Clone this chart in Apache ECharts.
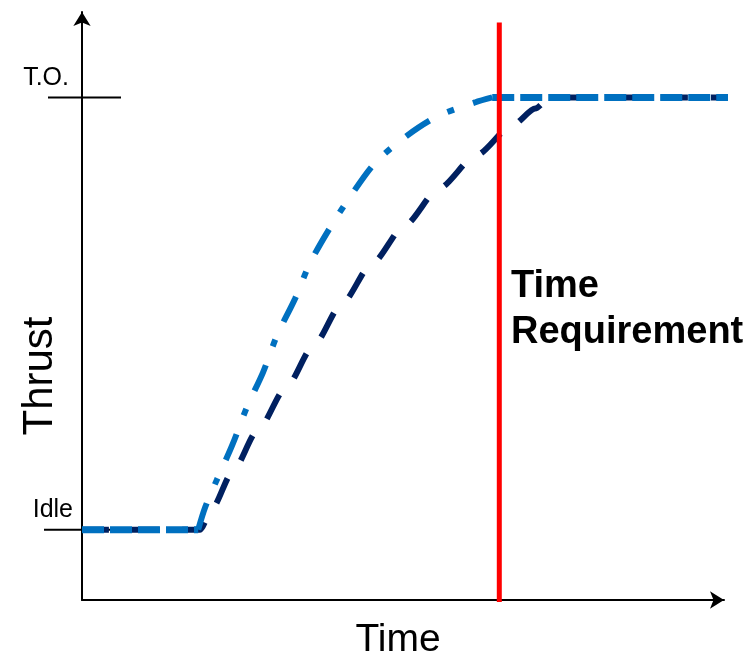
<!DOCTYPE html>
<html>
<head>
<meta charset="utf-8">
<script src="https://cdn.jsdelivr.net/npm/echarts@6/dist/echarts.min.js"></script>
<style>
  html, body { margin: 0; padding: 0; background: #fff; }
  #chart { width: 750px; height: 657px; }
</style>
</head>
<body>
<div id="chart"></div>
<script>
// Engine acceleration from idle to take-off thrust (time and thrust in arbitrary units)
const leadTime   = [0, 18.1, 19.2, 21.0, 23.4, 25.7, 28.2, 30.4, 33.2, 35.5, 38.6, 41.9, 45.6, 50.2, 55.3, 61.2, 63.9, 102.8];
const leadThrust = [14, 14, 18.5, 23.9, 30.8, 38.4, 45.3, 52.7, 60.0, 67.0, 74.0, 80.5, 86.9, 92.0, 96.2, 99.0, 100, 100];

const lagTime   = [0, 18.4, 20.3, 23.4, 27.4, 31.8, 36.1, 40.5, 45.2, 50.3, 55.6, 61.4, 67.0, 70.6, 72.9, 102.8];
const lagThrust = [14, 14, 18.3, 25.4, 33.8, 42.3, 50.7, 59.0, 67.0, 74.6, 81.9, 88.5, 94.4, 97.8, 100, 100];

// Thrust levels marked on the vertical axis
const levelValues = [14, 100];
const levelNames  = ['Idle', 'T.O.'];

// Required acceleration time and the vertical extent of its marker line
const requirementTime = 65;
const requirementSpan = [-0.4, 114.9];

const FONT = 'Liberation Sans, Arial, sans-serif';
const LIGHT = '#0070C0';
const DARK = '#002060';

const zip = (xs, ys) => xs.map((x, i) => [x, ys[i]]);
const lead = zip(leadTime, leadThrust);
const lag = zip(lagTime, lagThrust);
const n = lead.length;

const chart = echarts.init(document.getElementById('chart'), null, { renderer: 'canvas' });

const lineBase = {
  type: 'line',
  symbol: 'none',
  clip: false,
  silent: true,
  animation: false
};

chart.setOption({
  animation: false,
  backgroundColor: '#ffffff',
  grid: { left: 82, top: 12, right: 26, bottom: 57, outerBoundsMode: 'none', containLabel: false },
  xAxis: {
    type: 'value',
    min: 0,
    max: 100,
    splitLine: { show: false },
    axisTick: { show: false },
    axisLabel: { show: false },
    axisLine: {
      show: true,
      onZero: false,
      symbol: ['none', 'arrow'],
      symbolSize: [13, 14],
      lineStyle: { color: '#000', width: 2 }
    },
    name: 'Time',
    nameLocation: 'middle',
    nameGap: 21,
    nameTextStyle: {
      fontFamily: FONT, fontSize: 39, color: '#000', verticalAlign: 'top',
      padding: [0, 10, 0, 0]
    }
  },
  yAxis: {
    type: 'value',
    min: 0,
    max: 117,
    splitLine: { show: false },
    axisTick: { show: false },
    axisLabel: { show: false },
    axisLine: {
      show: true,
      onZero: false,
      symbol: ['none', 'arrow'],
      symbolSize: [13, 14],
      lineStyle: { color: '#000', width: 2 }
    }
  },
  graphic: [
    {
      type: 'text',
      x: 40,
      y: 376,
      rotation: Math.PI / 2,
      style: {
        text: 'Thrust',
        fontFamily: FONT,
        fontSize: 42,
        fill: '#000',
        align: 'center',
        verticalAlign: 'middle'
      }
    },
    {
      type: 'text',
      x: 511,
      y: 310,
      z: 10,
      style: {
        text: 'Time\nRequirement',
        fontFamily: FONT,
        fontWeight: 'bold',
        fontSize: 38,
        lineHeight: 46,
        fill: '#000',
        align: 'left',
        verticalAlign: 'middle'
      }
    }
  ],
  series: [
    // Thrust level ticks crossing the vertical axis, with their names
    {
      type: 'custom',
      silent: true,
      animation: false,
      data: levelValues.map((v, i) => [0, v, i]),
      renderItem: function (params, api) {
        const p = api.coord([api.value(0), api.value(1)]);
        const idx = api.value(2);
        const name = levelNames[idx];
        const isTop = idx === levelNames.length - 1;
        return {
          type: 'group',
          children: [
            {
              type: 'line',
              shape: { x1: p[0] - (isTop ? 34 : 38), y1: p[1], x2: p[0] + (isTop ? 39 : 35), y2: p[1] },
              style: { stroke: '#000', lineWidth: 2 }
            },
            {
              type: 'text',
              x: p[0] - (isTop ? 13 : 9),
              y: p[1] - 7,
              style: {
                text: name,
                fontFamily: FONT,
                fontSize: 25,
                fill: '#000',
                align: 'right',
                verticalAlign: 'bottom'
              }
            }
          ]
        };
      }
    },
    // Slower response (dashed)
    Object.assign({}, lineBase, {
      name: 'lag',
      data: lag,
      smooth: 0.25,
      smoothMonotone: 'x',
      z: 3,
      lineStyle: { color: DARK, width: 6, type: [27, 23], cap: 'butt' }
    }),
    // Faster response: flat idle part
    Object.assign({}, lineBase, {
      name: 'lead-idle',
      data: lead.slice(0, 2),
      z: 4,
      lineStyle: { color: LIGHT, width: 7, type: [22, 6], cap: 'butt' }
    }),
    // Faster response: acceleration (dash-dot)
    Object.assign({}, lineBase, {
      name: 'lead-rise',
      data: lead.slice(1, n - 1),
      smooth: 0.3,
      z: 4,
      lineStyle: { color: LIGHT, width: 6, type: [28, 20, 7, 20], cap: 'butt' }
    }),
    // Faster response: flat take-off part
    Object.assign({}, lineBase, {
      name: 'lead-to',
      data: lead.slice(n - 2),
      z: 4,
      lineStyle: { color: LIGHT, width: 7, type: [22, 6], cap: 'butt' }
    }),
    // Time requirement marker
    Object.assign({}, lineBase, {
      name: 'requirement',
      data: requirementSpan.map(v => [requirementTime, v]),
      z: 6,
      lineStyle: { color: '#FF0000', width: 5, type: 'solid' }
    })
  ]
});
</script>
</body>
</html>
